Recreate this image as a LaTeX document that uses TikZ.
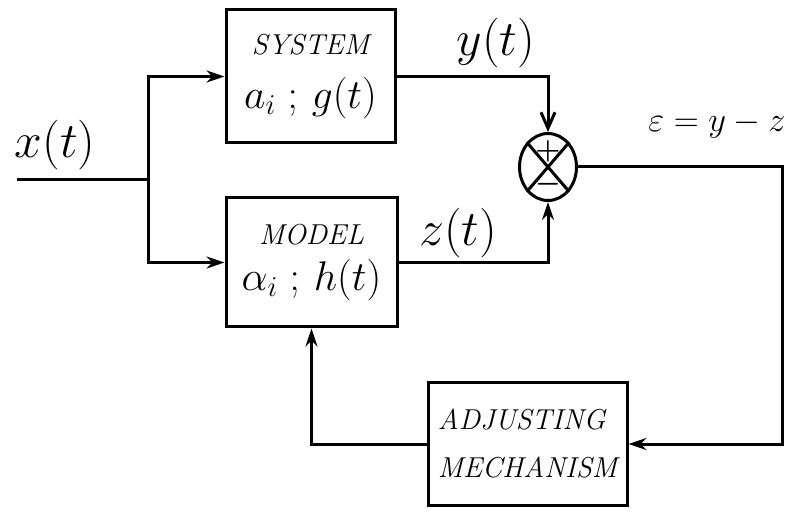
\documentclass[tikz,border=0pt]{standalone}
\usepackage{tikz}
\usetikzlibrary{calc, arrows.meta, shapes.geometric}

\begin{document}
\begin{tikzpicture}[x=0.5pt, y=-0.5pt, line width=1.5pt,
    block/.style={draw, rectangle, inner sep=3pt, font=\Large\itshape},
    flow/.style={-{Stealth[length=9pt, width=6pt]}},
    sig/.style={font=\Huge}]
  \useasboundingbox (0,0) rectangle (793,518);
  % blocks
  \node[block, minimum width=84.5pt, minimum height=66.5pt, align=center] (sys) at (310.5,76.5)
    {SYSTEM\\[9pt] {\huge $a_i\;;\,g(t)$}};
  \node[block, minimum width=85.5pt, minimum height=64.5pt, align=center] (mod) at (311.5,262.5)
    {MODEL\\[5pt] {\huge $\alpha_i\;;\,h(t)$}};
  \node[block, minimum width=99.5pt, minimum height=61pt, align=left] (adj) at (527.5,444)
    {ADJUSTING\\[6pt] MECHANISM};
  \node[draw, ellipse, minimum width=28.5pt, minimum height=33.5pt, inner sep=0pt] (sum) at (548,167) {};
  \draw (sum.north west) -- (sum.south east) (sum.north east) -- (sum.south west);
  \node[font=\Large\boldmath, inner sep=0pt] (plus) at (548,151) {$+$};
  \node[font=\Large\boldmath, inner sep=0pt] (minus) at (548,184) {$-$};
  % input and branch
  \coordinate (in) at (17,180);
  \coordinate (split) at (148,180);
  \draw (in) -- (split);
  \draw[flow] (split) |- (sys.west);
  \draw[flow] (split) |- (mod.west);
  % comparator
  \draw[-{Straight Barb[length=8pt, width=7pt]}] (sys.east) -| (sum.north);
  \draw[flow] (mod.east) -| (sum.south);
  % feedback loop
  \coordinate (turn) at (782,167);
  \draw[flow] (sum.east) -- (turn) |- (adj.east);
  \draw[flow] (adj.west) -| (mod.south);
  % signals
  \node[sig] (xt) at (55,145) {$x(t)$};
  \node[sig] (yt) at (496,43) {$y(t)$};
  \node[sig] (zt) at (458,233) {$z(t)$};
  \node[font=\LARGE] (err) at (717,125) {$\varepsilon = y - z$};
\end{tikzpicture}
\end{document}
